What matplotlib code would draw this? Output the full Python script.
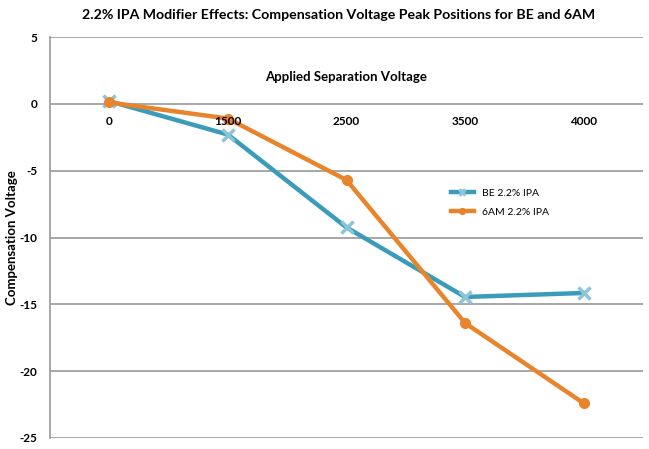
import numpy as np
import matplotlib.pyplot as plt

plt.rcParams['font.family'] = ['Lato', 'DejaVu Sans']

# data
voltages = ['0', '1500', '2500', '3500', '4000']
be_cv = [0.2, -2.3, -9.25, -14.45, -14.15]
am6_cv = [0.1, -1.1, -5.7, -16.4, -22.4]
y_ticks = [5, 0, -5, -10, -15, -20, -25]

teal = '#3a9bbb'
orange = '#e8852c'

fig = plt.figure(figsize=(6.49, 4.49), dpi=100)
ax = fig.add_axes([50/649, 11/449, 593/649, 401/449])

x = np.arange(len(voltages))
ax.plot(x, be_cv, color=teal, lw=3.2, marker='x', ms=8, mew=2.5,
        mec='#8cc4d8', label='BE 2.2% IPA', zorder=3)
ax.plot(x, am6_cv, color=orange, lw=3.2, marker='o', ms=7,
        mfc=orange, mec=orange, label='6AM 2.2% IPA', zorder=4)

ax.set_xlim(-0.5, 4.5)
ax.set_ylim(-25, 5)
ax.grid(axis='y', color='#a0a0a0', lw=1.3)
ax.set_axisbelow(True)

ax.spines['bottom'].set_position(('data', 0))
ax.spines['bottom'].set_visible(False)
ax.spines['top'].set_visible(False)
ax.spines['right'].set_visible(False)
ax.spines['left'].set_color('#a0a0a0')
ax.spines['left'].set_linewidth(1.3)

ax.set_xticks(x)
ax.set_xticklabels(voltages, fontsize=8.5, fontweight='bold')
ax.set_yticks(y_ticks)
ax.set_yticklabels([str(v) for v in y_ticks], fontsize=8.5, fontweight='bold')
ax.tick_params(axis='x', length=0, pad=9)
ax.tick_params(axis='y', length=0, pad=9)
# category labels sit on top of the lines, as in the original
ax.xaxis.set_zorder(5)

ax.text(2, 2.0, 'Applied Separation Voltage', ha='center', va='center',
        fontsize=9.5, fontweight='bold')
ax.set_ylabel('Compensation Voltage', fontsize=9.5, fontweight='bold', va='center')
ax.yaxis.set_label_coords(-38/593, 0.5)

fig.text(339/649, 1 - 15/449,
         '2.2% IPA Modifier Effects: Compensation Voltage Peak Positions for BE and 6AM',
         ha='center', va='center', fontsize=10.2, fontweight='bold')

ax.legend(loc='upper left', bbox_to_anchor=(0.66, 0.645), frameon=False,
          fontsize=7.5, handlelength=2.2, labelspacing=0.9, markerscale=0.6)

plt.savefig('out.png', dpi=100)
